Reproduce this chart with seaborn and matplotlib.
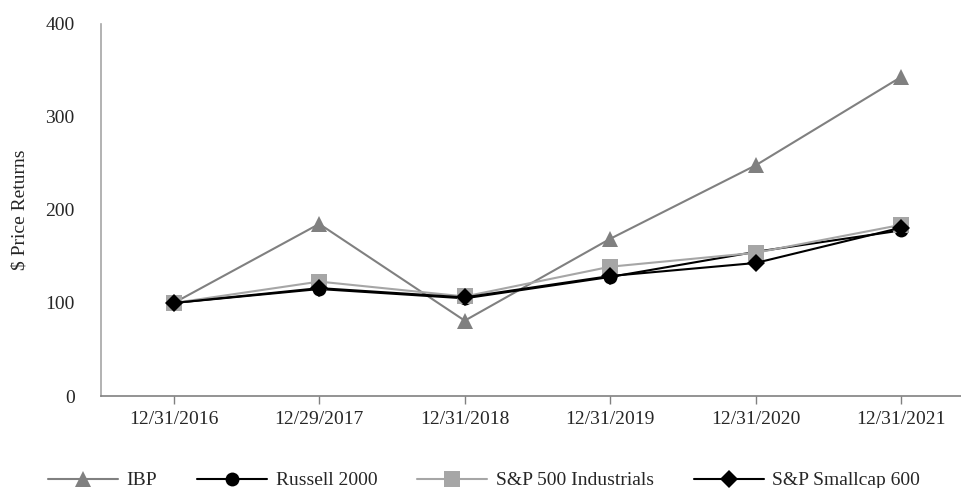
import pandas as pd
import matplotlib.pyplot as plt
import seaborn as sns

# Dados
dates = ['12/31/2016', '12/29/2017', '12/31/2018', '12/31/2019', '12/31/2020', '12/31/2021']
ibp = [100, 185, 81, 169, 248, 343]
russell = [100, 115, 105, 128, 155, 178]
sp500_ind = [100, 123, 107, 139, 154, 184]
sp_small = [100, 116, 106, 129, 143, 181]

series = ['IBP', 'Russell 2000', 'S&P 500 Industrials', 'S&P Smallcap 600']

df = pd.DataFrame({
    'date': dates * 4,
    'value': ibp + russell + sp500_ind + sp_small,
    'series': [s for s in series for _ in dates],
})

sns.set_style('white')
plt.rcParams['font.family'] = ['Liberation Serif', 'DejaVu Serif']

colors = {'IBP': '#808080', 'Russell 2000': '#000000',
          'S&P 500 Industrials': '#a6a6a6', 'S&P Smallcap 600': '#000000'}
markers = {'IBP': '^', 'Russell 2000': 'o',
           'S&P 500 Industrials': 's', 'S&P Smallcap 600': 'D'}
msize = {'IBP': 12, 'Russell 2000': 10, 'S&P 500 Industrials': 11, 'S&P Smallcap 600': 9}

fig = plt.figure(figsize=(9.62, 4.88), dpi=100)
ax = fig.add_axes([0.105, 0.1885, 0.895, 0.7625])

for s in series:
    sns.lineplot(data=df[df['series'] == s], x='date', y='value', ax=ax,
                 color=colors[s], marker=markers[s], markersize=msize[s],
                 markeredgewidth=0, linewidth=1.5, label=s, sort=False)

ax.set_xlim(-0.5, 5.418)
ax.set_ylim(0, 400)
ax.set_yticks([0, 100, 200, 300, 400])
ax.set_xlabel('')
ax.set_ylabel('$ Price Returns', fontsize=14)
ax.yaxis.set_label_coords(-0.084, 0.5)
ax.tick_params(axis='both', labelsize=14)
ax.tick_params(axis='y', length=0, pad=19)
ax.tick_params(axis='x', length=6, width=1, color='#808080', direction='out', pad=5, bottom=True)

for side in ['top', 'right']:
    ax.spines[side].set_visible(False)
ax.spines['left'].set_color('#a6a6a6')
ax.spines['bottom'].set_color('#808080')
ax.spines['left'].set_linewidth(1.2)
ax.spines['bottom'].set_linewidth(1.2)

ax.get_legend().remove()
handles, labels = ax.get_legend_handles_labels()
fig.legend(handles, labels, loc='center', bbox_to_anchor=(0.503, 0.015), ncol=4,
           frameon=False, fontsize=14, handlelength=3.6, handletextpad=0.45,
           columnspacing=2.05, borderpad=0)

fig.savefig('out.png', dpi=100)
